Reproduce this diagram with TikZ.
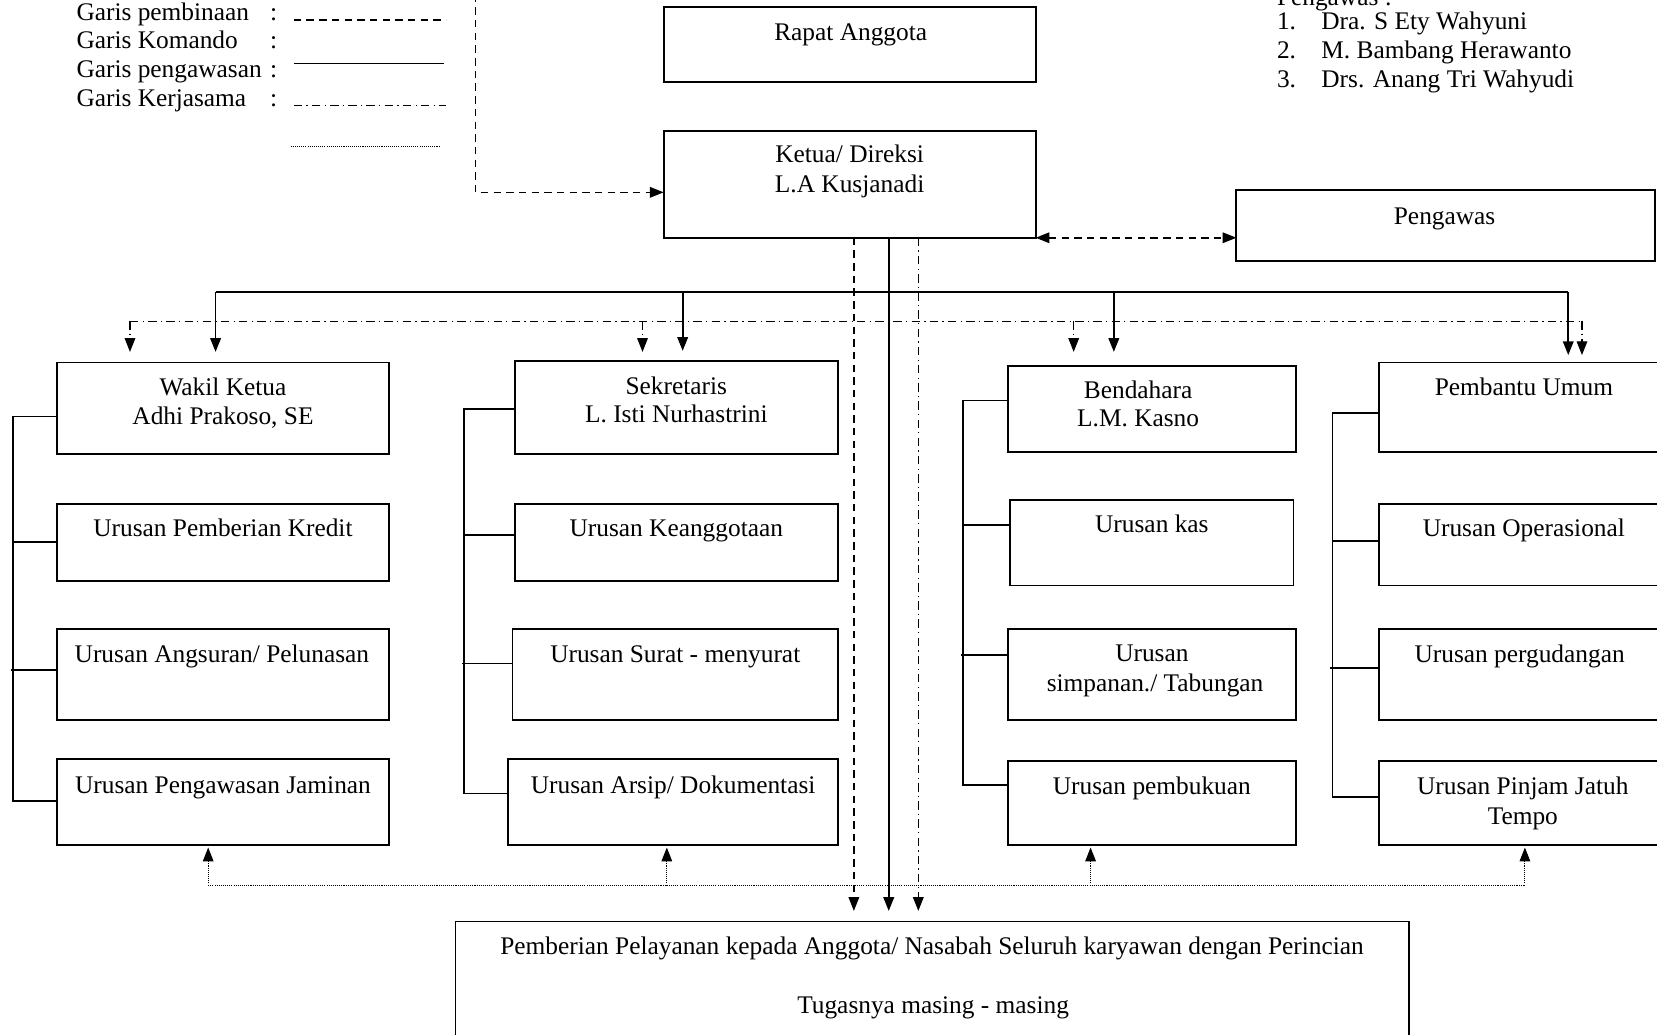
\documentclass[tikz,border=0pt]{standalone}
\usepackage{fontspec}
\setmainfont{Liberation Serif}
\usetikzlibrary{arrows.meta}
\begin{document}
\begin{tikzpicture}[x=0.5pt,y=-0.5pt,
  bx/.style={draw, line width=0.9pt, rectangle, inner sep=0pt, outer sep=0pt},
  txt/.style={font=\fontsize{12}{14}\selectfont, inner sep=0pt, anchor=base},
  ltxt/.style={font=\fontsize{12}{14}\selectfont, inner sep=0pt, anchor=base west},
  arr/.style={-{Triangle[length=6.5pt,width=5pt]}},
  arrboth/.style={{Triangle[length=6.5pt,width=5pt]}-{Triangle[length=6.5pt,width=5pt]}},
  komando/.style={line width=0.85pt},
  pembinaan/.style={line width=0.7pt, dash pattern=on 3.5pt off 2.5pt},
  kerjasama/.style={line width=0.6pt, dash pattern=on 4pt off 2pt on 0.6pt off 2pt},
  dotl/.style={line width=0.45pt, dash pattern=on 0.5pt off 0.5pt},
  brk/.style={line width=0.8pt}]
\useasboundingbox (0,0) rectangle (1568,979);
\clip (0,0) rectangle (1568,979);
\fill[white] (0,0) rectangle (1568,979);

% legend
\node[ltxt] (lg1) at (72,19) {Garis pembinaan};
\node[ltxt] (lg2) at (72,46) {Garis Komando};
\node[ltxt] (lg3) at (72,73) {Garis pengawasan};
\node[ltxt] (lg4) at (72,101) {Garis Kerjasama};
\node[txt] (lc1) at (259,19) {:};
\node[txt] (lc2) at (259,46) {:};
\node[txt] (lc3) at (259,73) {:};
\node[txt] (lc4) at (259,101) {:};
\coordinate (l1a) at (278,19); \coordinate (l1b) at (422,19);
\coordinate (l2a) at (278,60); \coordinate (l2b) at (420,60);
\coordinate (l3a) at (278,100); \coordinate (l3b) at (422,100);
\coordinate (l4a) at (275,139); \coordinate (l4b) at (416,139);
\draw[pembinaan] (l1a) -- (l1b);
\draw[komando] (l2a) -- (l2b);
\draw[kerjasama] (l3a) -- (l3b);
\draw[dotl] (l4a) -- (l4b);

% pengawas list
\node[ltxt] (pw0) at (1208,5) {Pengawas :};
\node[ltxt] (pn1) at (1208,28) {1.};
\node[ltxt] (pn2) at (1208,55) {2.};
\node[ltxt] (pn3) at (1208,83) {3.};
\node[ltxt] (pm1) at (1250,28) {Dra. S Ety Wahyuni};
\node[ltxt] (pm2) at (1250,55) {M. Bambang Herawanto};
\node[ltxt] (pm3) at (1250,83) {Drs. Anang Tri Wahyudi};

% top boxes
\node[bx, minimum width=176pt, minimum height=35.5pt] (rapat) at (804,42.5) {};
\node[txt] (rapat-t) at (805,38) {Rapat Anggota};
\node[bx, minimum width=176pt, minimum height=50.5pt] (ketua) at (804,174.5) {};
\node[txt] (ketua-t1) at (804,154) {Ketua/ Direksi};
\node[txt] (ketua-t2) at (804,182) {L.A Kusjanadi};
\node[bx, minimum width=198pt, minimum height=33.5pt] (pengawas) at (1368,213.5) {};
\node[txt] (pengawas-t) at (1367,212) {Pengawas};

% column 1
\node[bx, minimum width=157pt, minimum height=43.5pt] (wakil) at (211,386.5) {};
\node[txt] (wakil-t1) at (211,374) {Wakil Ketua};
\node[txt] (wakil-t2) at (211,402) {Adhi Prakoso, SE};
\node[bx, minimum width=157pt, minimum height=36.5pt] (kredit) at (211,513.5) {};
\node[txt] (kredit-t) at (211,508) {Urusan Pemberian Kredit};
\node[bx, minimum width=157pt, minimum height=43pt] (angsuran) at (211,638) {};
\node[txt] (angsuran-t) at (210,627) {Urusan Angsuran/ Pelunasan};
\node[bx, minimum width=157pt, minimum height=41pt] (jaminan) at (211,759) {};
\node[txt] (jaminan-t) at (211,751) {Urusan Pengawasan Jaminan};

% column 2
\node[bx, minimum width=153pt, minimum height=44pt] (sekr) at (640,386) {};
\node[txt] (sekr-t1) at (640,373) {Sekretaris};
\node[txt] (sekr-t2) at (640,400) {L. Isti Nurhastrini};
\node[bx, minimum width=153pt, minimum height=36.5pt] (anggota) at (640,513.5) {};
\node[txt] (anggota-t) at (640,508) {Urusan Keanggotaan};
\node[bx, minimum width=154pt, minimum height=43pt] (surat) at (639,638) {};
\node[txt] (surat-t) at (639,627) {Urusan Surat - menyurat};
\node[bx, minimum width=156pt, minimum height=41pt] (arsip) at (637,759) {};
\node[txt] (arsip-t) at (637,751) {Urusan Arsip/ Dokumentasi};

% column 3
\node[bx, minimum width=136pt, minimum height=41pt] (bend) at (1090,387) {};
\node[txt] (bend-t1) at (1077,377) {Bendahara};
\node[txt] (bend-t2) at (1077,404) {L.M. Kasno};
\node[bx, minimum width=134pt, minimum height=40.5pt] (kas) at (1090,513.5) {};
\node[txt] (kas-t) at (1090,504) {Urusan kas};
\node[bx, minimum width=136pt, minimum height=43pt] (simpanan) at (1090,638) {};
\node[txt] (simpanan-t1) at (1090,626) {Urusan};
\node[txt] (simpanan-t2) at (1093,654) {simpanan./ Tabungan};
\node[bx, minimum width=136pt, minimum height=40pt] (pembukuan) at (1090,760) {};
\node[txt] (pembukuan-t) at (1090,752) {Urusan pembukuan};

% column 4
\node[bx, minimum width=136pt, minimum height=42.5pt] (pembantu) at (1441,385.5) {};
\node[txt] (pembantu-t) at (1442,374) {Pembantu Umum};
\node[bx, minimum width=136pt, minimum height=38.5pt] (oper) at (1441,515.5) {};
\node[txt] (oper-t) at (1442,508) {Urusan Operasional};
\node[bx, minimum width=136pt, minimum height=43pt] (gudang) at (1441,638) {};
\node[txt] (gudang-t) at (1438,627) {Urusan pergudangan};
\node[bx, minimum width=136pt, minimum height=40pt] (pinjam) at (1441,760) {};
\node[txt] (pinjam-t1) at (1441,752) {Urusan Pinjam Jatuh};
\node[txt] (pinjam-t2) at (1441,780) {Tempo};

% bottom box
\node[bx, minimum width=451pt, minimum height=65pt] (bottom) at (882,937) {};
\node[txt] (bottom-t1) at (882,903) {Pemberian Pelayanan kepada Anggota/ Nasabah Seluruh karyawan dengan Perincian};
\node[txt] (bottom-t2) at (883,959) {Tugasnya masing - masing};

% pembinaan line from top
\coordinate (pbtop) at (450,-5);
\draw[pembinaan, arr] (pbtop) |- (ketua.west |- 0,182);
\draw[pembinaan, arrboth] (ketua.south east) -- (pengawas.west |- ketua.south east);

% vertical lines from ketua to bottom
\draw[pembinaan, arr, shorten >=5pt] (ketua.south -| 808,0) -- (bottom.north -| 808,0);
\draw[komando, arr, shorten >=5pt] (ketua.south -| 841,0) -- (bottom.north -| 841,0);
\draw[kerjasama, arr, shorten >=5pt] (ketua.south -| 869,0) -- (bottom.north -| 869,0);

% komando bar
\coordinate (kb1) at (204,276); \coordinate (kb2) at (646,276);
\coordinate (kb3) at (1054,276); \coordinate (kb4) at (1484,276);
\draw[komando] (kb1) -- (kb4);
\draw[komando, arr, shorten >=5pt] (kb1) -- (wakil.north -| kb1);
\draw[komando, arr, shorten >=5pt] (kb2) -- (sekr.north -| kb2);
\draw[komando, arr, shorten >=6.5pt] (kb3) -- (bend.north -| kb3);
\draw[komando, arr, shorten >=3.5pt] (kb4) -- (pembantu.north -| kb4);

% kerjasama bar
\coordinate (kj1) at (123,304); \coordinate (kj2) at (608,304);
\coordinate (kj3) at (1016,304); \coordinate (kj4) at (1497,304);
\draw[kerjasama] (kj1) -- (kj4);
\draw[kerjasama, arr, shorten >=5pt] (kj1) -- (wakil.north -| kj1);
\draw[kerjasama, arr, shorten >=4.5pt] (kj2) -- (sekr.north -| kj2);
\draw[kerjasama, arr, shorten >=6.5pt] (kj3) -- (bend.north -| kj3);
\draw[kerjasama, arr, shorten >=3.5pt] (kj4) -- (pembantu.north -| kj4);

% dotted bottom bar
\coordinate (db1) at (197,838); \coordinate (db2) at (631,838);
\coordinate (db3) at (1032,838); \coordinate (db4) at (1443,838);
\draw[dotl] (db1) -- (db4);
\draw[dotl, arr, shorten >=1pt] (db1) -- (jaminan.south -| db1);
\draw[dotl, arr, shorten >=1pt] (db2) -- (arsip.south -| db2);
\draw[dotl, arr, shorten >=1pt] (db3) -- (pembukuan.south -| db3);
\draw[dotl, arr, shorten >=1pt] (db4) -- (pinjam.south -| db4);

% brackets
\draw[brk] (wakil.west |- 0,394) -| (12,758) -- (jaminan.west |- 0,758);
\draw[brk] (kredit.west |- 0,513) -- (12,513);
\draw[brk] (angsuran.west |- 0,634) -- (10,634);

\draw[brk] (sekr.west |- 0,387) -| (439,751) -- (arsip.west |- 0,751);
\draw[brk] (anggota.west |- 0,506) -- (439,506);
\draw[brk] (surat.west |- 0,628) -- (437,628);

\draw[brk] (bend.west |- 0,379) -| (911,743) -- (pembukuan.west |- 0,743);
\draw[brk] (kas.west |- 0,497) -- (911,497);
\draw[brk] (simpanan.west |- 0,620) -- (909,620);

\draw[brk] (pembantu.west |- 0,391) -| (1261,754) -- (pinjam.west |- 0,754);
\draw[brk] (oper.west |- 0,512) -- (1261,512);
\draw[brk] (gudang.west |- 0,632) -- (1259,632);
\end{tikzpicture}
\end{document}
